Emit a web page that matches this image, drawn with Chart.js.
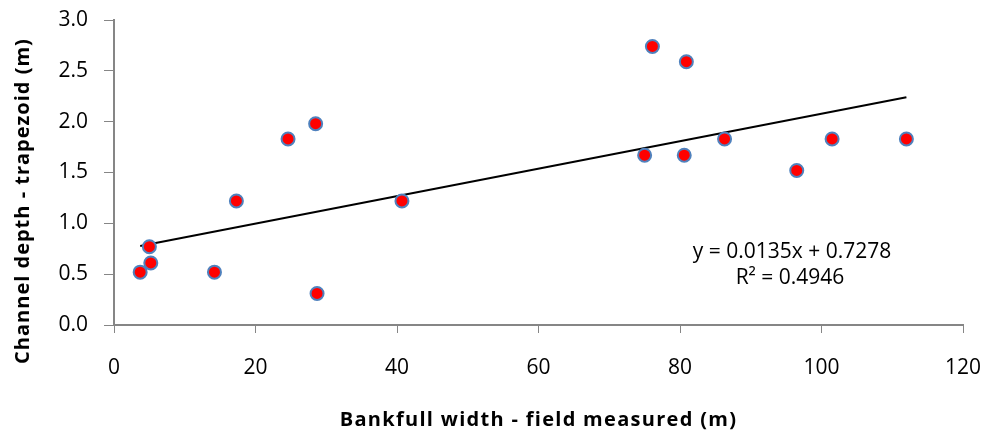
<!DOCTYPE html>
<html>
<head>
<meta charset="utf-8">
<script src="https://cdn.jsdelivr.net/npm/chart.js@4"></script>
<style>
  html, body { margin: 0; padding: 0; background: #fff; }
  #wrap { width: 986px; height: 432px; }
</style>
</head>
<body>
<div id="wrap"><canvas id="chart"></canvas></div>
<script>
// bankfull width (m) and channel depth (m)
const widths = [3.7, 5.0, 5.2, 14.2, 17.3, 24.6, 28.5, 28.7, 40.7, 75.0, 76.1, 80.6, 80.9, 86.3, 96.5, 101.5, 112.0];
const depths = [0.52, 0.77, 0.61, 0.52, 1.22, 1.83, 1.98, 0.31, 1.22, 1.67, 2.74, 1.67, 2.59, 1.83, 1.52, 1.83, 1.83];

// trend line as printed on the chart
const slope = 0.0135;
const intercept = 0.7278;
const eqLabel = 'y = 0.0135x + 0.7278';
const r2Label = 'R² = 0.4946';

const xTitle = 'Bankfull width - field measured (m)';
const yTitle = 'Channel depth - trapezoid (m)';

const pts = widths.map((w, i) => ({ x: w, y: depths[i] }));
const xMin = Math.min(...widths);
const xMax = Math.max(...widths);
const trend = [
    { x: xMin, y: slope * xMin + intercept },
    { x: xMax, y: slope * xMax + intercept }
];

const FONT = '"Open Sans", sans-serif';
const AXIS_GRAY = '#868686';

// axis titles (a bit letter-spaced, like the original) and the regression label
const textPlugin = {
    id: 'texts',
    afterDraw(chart) {
        const c = chart.ctx;
        const area = chart.chartArea;
        c.save();
        c.fillStyle = '#000';
        c.textAlign = 'center';
        c.textBaseline = 'middle';

        c.font = 'bold 20px ' + FONT;
        c.letterSpacing = '1.3px';
        c.fillText(xTitle, (area.left + area.right) / 2, 420);

        c.letterSpacing = '1px';
        c.save();
        c.translate(23, 201);
        c.rotate(-Math.PI / 2);
        c.fillText(yTitle, 0, 0);
        c.restore();

        c.letterSpacing = '0px';
        c.font = '21px ' + FONT;
        c.fillText(eqLabel, 792, 252);
        c.fillText(r2Label, 790, 278);
        c.restore();
    }
};

new Chart(document.getElementById('chart'), {
    type: 'scatter',
    data: {
        datasets: [{
            label: 'data',
            data: pts,
            backgroundColor: '#ff0000',
            borderColor: '#4f81bd',
            borderWidth: 2,
            pointRadius: 6.5,
            order: 0
        }, {
            label: 'trend',
            data: trend,
            showLine: true,
            borderColor: '#000',
            borderWidth: 2,
            pointRadius: 0,
            order: 1
        }]
    },
    options: {
        responsive: true,
        maintainAspectRatio: false,
        animation: false,
        layout: {
            padding: { left: 0, top: 20, right: 23, bottom: 0 }
        },
        scales: {
            x: {
                type: 'linear',
                min: 0,
                max: 120,
                afterFit: s => {
                    s.height = 107;
                    s.paddingLeft = 0;
                    s.paddingRight = 0;
                },
                border: { display: true, color: AXIS_GRAY, width: 2 },
                grid: { drawOnChartArea: false, drawTicks: true, tickLength: 8, color: AXIS_GRAY },
                ticks: { stepSize: 20, padding: 22, color: '#000', font: { family: FONT, size: 21 } }
            },
            y: {
                min: 0,
                max: 3,
                afterFit: s => {
                    s.width = 114;
                    s.paddingTop = 0;
                    s.paddingBottom = 0;
                },
                border: { display: true, color: AXIS_GRAY, width: 2 },
                grid: { drawOnChartArea: false, drawTicks: true, tickLength: 10, color: AXIS_GRAY },
                ticks: {
                    stepSize: 0.5,
                    padding: 16,
                    color: '#000',
                    font: { family: FONT, size: 21 },
                    callback: v => v.toFixed(1)
                }
            }
        },
        plugins: {
            legend: { display: false },
            tooltip: { enabled: false }
        }
    },
    plugins: [textPlugin]
});
</script>
</body>
</html>
